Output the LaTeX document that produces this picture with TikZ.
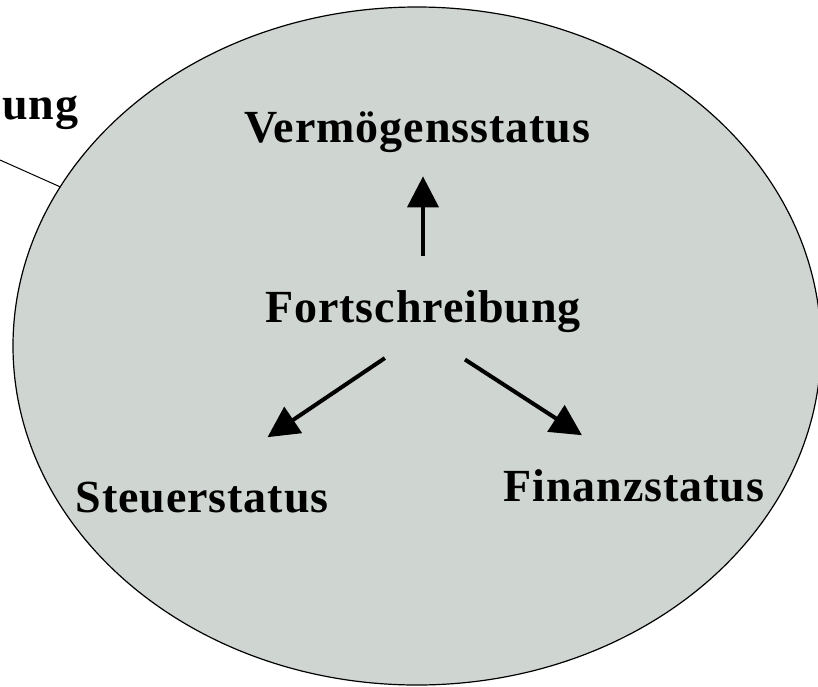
\documentclass[tikz,border=0pt]{standalone}
\usepackage{fontspec}
\setmainfont{Liberation Serif}
\usetikzlibrary{arrows.meta,shapes.geometric}
\definecolor{ovalgrey}{RGB}{207,213,209}
\tikzset{
  lbl/.style={font=\bfseries\fontsize{46}{50}\selectfont\addfontfeature{LetterSpace=2}, inner sep=0pt, anchor=base},
  arr/.style={line width=4pt, -{Triangle[length=31pt,width=31pt]}}
}
\begin{document}
\begin{tikzpicture}[x=1pt,y=-1pt]
\useasboundingbox (0,0) rectangle (818,686);
\clip (0,0) rectangle (818,686);
\node [ellipse, draw, line width=1.2pt, fill=ovalgrey, inner sep=0pt,
  minimum width=808pt, minimum height=678pt] (oval) at (417,346) {};
\node [lbl, anchor=base west] (ung) at (2,119) {ung};
\coordinate (lead) at (0,160);
\draw [line width=1pt] (lead) -- (oval);
\node [lbl] (verm) at (417,142) {Vermögensstatus};
\node [lbl] (fort) at (423,322) {Fortschreibung};
\node [lbl] (steuer) at (202,512) {Steuerstatus};
\node [lbl] (finanz) at (634,501) {Finanzstatus};
\draw [arr, shorten <=34pt, shorten >=24pt] (fort.north) -- (fort.north |- verm.south);
\draw [arr, shorten <=46pt, shorten >=79pt] (fort.south) -- (steuer.north);
\draw [arr, shorten <=50pt, shorten >=62pt] (fort.south) -- (finanz.north);
\end{tikzpicture}
\end{document}
